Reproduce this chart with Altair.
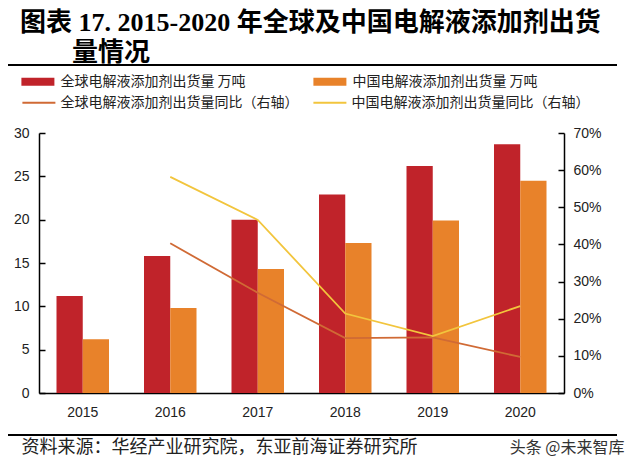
import altair as alt
import pandas as pd

years = ["2015", "2016", "2017", "2018", "2019", "2020"]
global_vol = [11.2, 15.8, 20.0, 22.9, 26.2, 28.7]
china_vol = [6.2, 9.8, 14.3, 17.3, 19.9, 24.5]
global_yoy = [None, 0.403, 0.270, 0.148, 0.150, 0.097]
china_yoy = [None, 0.582, 0.466, 0.214, 0.153, 0.234]

bar_series = ["全球电解液添加剂出货量 万吨", "中国电解液添加剂出货量 万吨"]
line_series = ["全球电解液添加剂出货量同比（右轴）", "中国电解液添加剂出货量同比（右轴）"]
bar_colors = ["#C0232A", "#E8822A"]
line_colors = ["#D06A35", "#F2C53D"]

title_lines = ["图表 17. 2015-2020 年全球及中国电解液添加剂出货", "\u200b\u3000\u3000量情况"]
source_text = "资料来源：华经产业研究院，东亚前海证券研究所"
watermark_text = "头条 @未来智库"

left_ticks = [0, 5, 10, 15, 20, 25, 30]
right_ticks = [0, 0.1, 0.2, 0.3, 0.4, 0.5, 0.6, 0.7]

bar_rows = []
for y, g, c in zip(years, global_vol, china_vol):
    bar_rows.append({"year": y, "series": bar_series[0], "value": g})
    bar_rows.append({"year": y, "series": bar_series[1], "value": c})
bar_df = pd.DataFrame(bar_rows)

line_rows = []
for y, g, c in zip(years, global_yoy, china_yoy):
    if g is not None:
        line_rows.append({"year": y, "series": line_series[0], "yoy": g})
    if c is not None:
        line_rows.append({"year": y, "series": line_series[1], "yoy": c})
line_df = pd.DataFrame(line_rows)

FONT = "Liberation Sans"
CJK = "Noto Sans CJK SC"

x_axis = alt.Axis(title=None, ticks=False, domainColor="black", domainWidth=1.5,
                  labelFontSize=14, labelFont=FONT, labelColor="#222",
                  labelPadding=12, labelAngle=0, grid=False)

x_enc = alt.X("year:N", sort=years,
              scale=alt.Scale(paddingInner=0.4, paddingOuter=0.2),
              axis=x_axis)

bars = alt.Chart(bar_df).mark_bar().encode(
    x=x_enc,
    xOffset=alt.XOffset("series:N", scale=alt.Scale(domain=bar_series)),
    y=alt.Y("value:Q", scale=alt.Scale(domain=[0, 30]),
            axis=alt.Axis(title=None, values=left_ticks, grid=False,
                          domainColor="black", domainWidth=1.5,
                          tickColor="black", tickWidth=1.5, tickSize={"expr": "-6"},
                          labelFontSize=14, labelFont=FONT, labelColor="#222",
                          labelPadding=16)),
    fill=alt.Fill("series:N", scale=alt.Scale(domain=bar_series, range=bar_colors),
                  legend=alt.Legend(title=None, orient="none", legendX=-17.6, legendY=-68,
                                    direction="horizontal", columns=2,
                                    symbolType="M-1,-0.24H1V0.24H-1Z", symbolSize=1089,
                                    symbolStrokeWidth=0, labelFontSize=14, labelFont=CJK,
                                    labelColor="#222", labelLimit=400, labelOffset=6,
                                    columnPadding=67, padding=0)),
)

lines = alt.Chart(line_df).mark_line(strokeWidth=1.8).encode(
    x=x_enc,
    y=alt.Y("yoy:Q", scale=alt.Scale(domain=[0, 0.7]),
            axis=alt.Axis(title=None, orient="right", values=right_ticks, format=".0%",
                          grid=False, domainColor="black", domainWidth=1.5,
                          tickColor="black", tickWidth=1.5, tickSize={"expr": "-6"},
                          labelFontSize=14, labelFont=FONT, labelColor="#222",
                          labelPadding=15)),
    stroke=alt.Stroke("series:N", scale=alt.Scale(domain=line_series, range=line_colors),
                      legend=alt.Legend(title=None, orient="none", legendX=-17.6, legendY=-48,
                                        direction="horizontal", columns=2,
                                        symbolType="stroke", symbolSize=1089,
                                        symbolStrokeWidth=2, labelFontSize=14, labelFont=CJK,
                                        labelColor="#222", labelLimit=400, labelOffset=4,
                                        columnPadding=11, padding=0)),
)

one = pd.DataFrame({"k": [0]})
top_rule = alt.Chart(one).mark_rule(color="black", strokeWidth=2).encode(
    x=alt.value(-35), x2=alt.value(578), y=alt.value(-68))
bottom_rule = alt.Chart(one).mark_rule(color="black", strokeWidth=2).encode(
    x=alt.value(-35), x2=alt.value(578), y=alt.value(302))

source = alt.Chart(pd.DataFrame({"t": [source_text]})).mark_text(
    align="left", baseline="middle", fontSize=18, font=CJK, color="#222").encode(
    text="t:N", x=alt.value(-17.6), y=alt.value(315))
watermark = alt.Chart(pd.DataFrame({"t": [watermark_text]})).mark_text(
    align="left", baseline="middle", fontSize=16, font=CJK, color="#333").encode(
    text="t:N", x=alt.value(470.7), y=alt.value(315))

chart = alt.layer(bars, lines, top_rule, bottom_rule, source, watermark).resolve_scale(
    y="independent", fill="independent", stroke="independent"
).properties(
    width=525, height=260,
    autosize=alt.AutoSizeParams(type="none"),
    padding={"left": 31, "top": 125, "right": 68, "bottom": 74},
    title=alt.TitleParams(text=title_lines, anchor="start", frame="group", dx=-19,
                          offset=-2, fontSize=26, lineHeight=30,
                          font="Liberation Serif, Noto Sans CJK SC", fontWeight="bold",
                          color="black"),
    background="white",
).configure_view(strokeWidth=0)

chart.save("out.html", embed_options={"renderer": "svg", "actions": False})
